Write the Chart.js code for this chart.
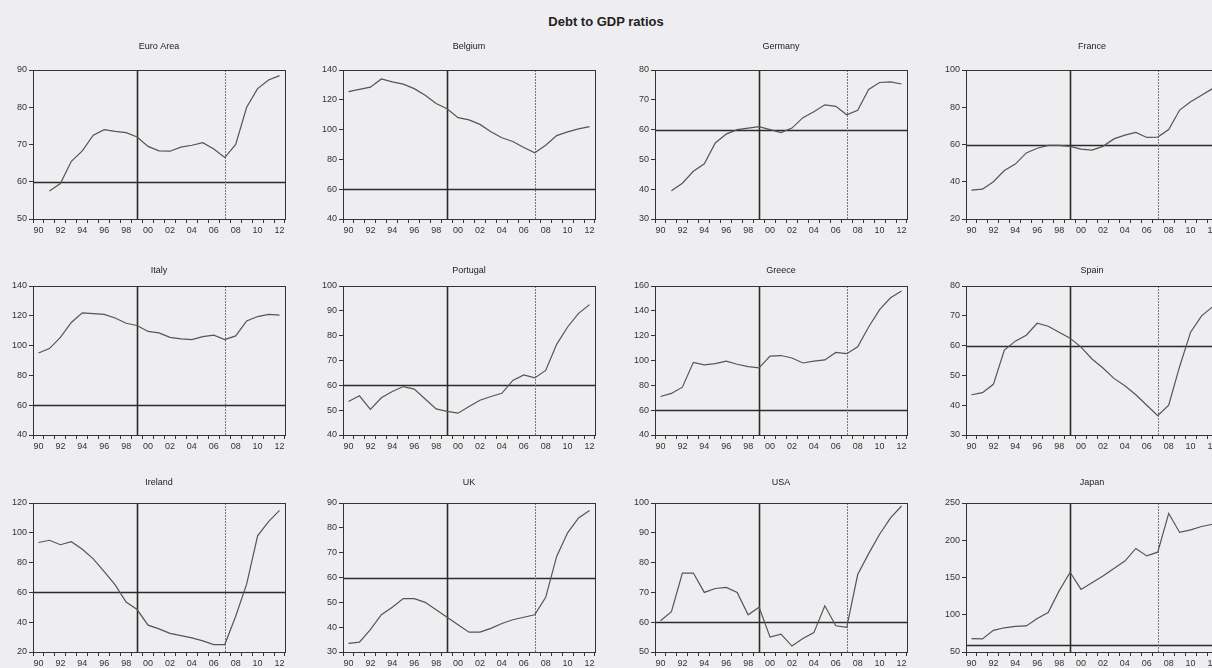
<!DOCTYPE html>
<html>
<head>
<meta charset="utf-8">
<title>Debt to GDP ratios</title>
<script src="https://cdn.jsdelivr.net/npm/chart.js@4.4.1/dist/chart.umd.min.js"></script>
<style>
  html, body { margin: 0; padding: 0; }
  body { width: 1212px; height: 668px; overflow: hidden; position: relative; background: #eeeef0; }
  #title { position: absolute; left: 0; width: 1212px; top: 14px; text-align: center;
           font: bold 13px "Liberation Sans", Arial, sans-serif; color: #222; }
  .panel { position: absolute; }
</style>
</head>
<body>
<div id="title">Debt to GDP ratios</div>
<div id="grid"></div>
<script>
// years 1990 - 2012
const years = ['90','91','92','93','94','95','96','97','98','99','00','01','02','03','04','05','06','07','08','09','10','11','12'];

const euroArea = [null, 57.5, 59.5, 65.5, 68.3, 72.5, 74, 73.5, 73.2, 72, 69.5, 68.3, 68.2, 69.3, 69.8, 70.5, 68.8, 66.5, 70, 80, 85, 87.3, 88.5];
const belgium  = [125.5, 127, 128.5, 134, 132, 130.5, 127.5, 123, 117.5, 114, 108, 106.5, 103.5, 98.5, 94.5, 92, 88, 84.5, 89.5, 96, 98.5, 100.5, 102];
const germany  = [null, 39.5, 42, 46, 48.5, 55.5, 58.5, 60, 60.5, 61, 60, 59, 60.5, 64, 66, 68.3, 67.8, 65, 66.5, 73.5, 75.8, 76, 75.3];
const france   = [35.5, 36, 40, 46, 49.5, 55.5, 58, 59.5, 59.5, 59, 57.5, 57, 59, 63, 65, 66.5, 63.8, 64, 68, 78.5, 83, 86.5, 90];
const italy    = [95, 98, 105.5, 115.5, 122, 121.5, 121, 118.5, 115, 113.5, 109.5, 108.5, 105.5, 104.5, 104, 106, 107, 104, 106.5, 116.5, 119.5, 121, 120.5];
const portugal = [53.5, 55.8, 50.3, 55, 57.5, 59.5, 58.5, 54.5, 50.5, 49.5, 48.8, 51.5, 54, 55.5, 56.8, 62, 64.2, 63, 66, 76.5, 83.5, 89, 92.5];
const greece   = [71, 73.5, 78.5, 98.5, 96.5, 97.5, 99.5, 97, 95, 94, 103.5, 104, 102, 98, 99.5, 100.5, 106.5, 105.5, 111, 127, 141, 150.5, 156];
const spain    = [43.5, 44.2, 47, 58.5, 61.5, 63.5, 67.5, 66.5, 64.5, 62.5, 59.5, 55.5, 52.5, 49, 46.5, 43.5, 40, 36.5, 40, 53, 64.5, 70, 73];
const ireland  = [93.5, 95, 92, 94, 89, 82.5, 74, 65, 53.5, 48.5, 38, 35.5, 32.5, 31, 29.5, 27.5, 25, 25, 44, 65.5, 98, 107.5, 115];
const uk       = [33.5, 34, 39, 45, 48, 51.5, 51.5, 50, 47, 44, 41, 38, 38, 39.5, 41.5, 43, 44, 45, 52, 68.5, 78, 84, 87];
const usa      = [60.5, 63.5, 76.5, 76.5, 70, 71.3, 71.7, 70, 62.5, 65, 55, 56, 52, 54.5, 56.5, 65.5, 58.8, 58.3, 76, 83, 89.5, 95, 99];
const japan    = [68, 67.5, 79, 82.5, 84.5, 85, 95, 103, 132, 157, 134, 143, 152, 162, 172, 189, 179, 184, 236, 210.5, 214, 218.5, 221.5];

const countries = ['Euro Area', 'Belgium', 'Germany', 'France', 'Italy', 'Portugal', 'Greece', 'Spain', 'Ireland', 'UK', 'USA', 'Japan'];
const series = [euroArea, belgium, germany, france, italy, portugal, greece, spain, ireland, uk, usa, japan];
const yMin  = [50, 40, 30, 20, 40, 40, 40, 30, 20, 30, 50, 50];
const yMax  = [90, 140, 80, 100, 140, 100, 160, 80, 120, 90, 100, 250];
const yStep = [10, 20, 10, 20, 20, 10, 20, 10, 20, 10, 10, 50];

const limit = 60;      // Maastricht debt limit
const euroYear = '99'; // euro launch
const crisisYear = '07';

// page layout of the 4 x 3 panels
const colLeft = [33, 343, 655, 966];
const rowTop = [70, 286, 503];
const plotW = 252, plotH = 149;
const titleGap = [23, 15, 20];
const padTop = 30, axisW = 40, axisH = 22, padRight = 8;

Chart.defaults.font.family = '"Liberation Sans", Arial, sans-serif';
Chart.defaults.font.size = 9;
Chart.defaults.color = '#333';

const frame = {
  id: 'frame',
  beforeDatasetsDraw(chart, args, opts) {
    const { ctx, chartArea: a, scales: { x, y } } = chart;
    ctx.save();
    // 60% line
    const yl = Math.round(y.getPixelForValue(limit)) + 0.5;
    ctx.strokeStyle = '#2b2b2b';
    ctx.lineWidth = 1.6;
    ctx.beginPath(); ctx.moveTo(a.left, yl); ctx.lineTo(a.right, yl); ctx.stroke();
    // 1999
    const x1 = Math.round(x.getPixelForValue(years.indexOf(euroYear))) + 0.5;
    ctx.beginPath(); ctx.moveTo(x1, a.top); ctx.lineTo(x1, a.bottom); ctx.stroke();
    // 2007
    const x2 = Math.round(x.getPixelForValue(years.indexOf(crisisYear))) + 0.5;
    ctx.strokeStyle = '#7a7a7a';
    ctx.lineWidth = 1;
    ctx.setLineDash([2, 1]);
    ctx.beginPath(); ctx.moveTo(x2, a.top); ctx.lineTo(x2, a.bottom); ctx.stroke();
    ctx.restore();
  },
  afterDraw(chart, args, opts) {
    const { ctx, chartArea: a } = chart;
    ctx.save();
    ctx.strokeStyle = '#333';
    ctx.lineWidth = 1;
    ctx.strokeRect(Math.round(a.left) + 0.5, Math.round(a.top) + 0.5, Math.round(a.right - a.left), Math.round(a.bottom - a.top));
    ctx.fillStyle = '#222';
    ctx.font = '9px "Liberation Sans", Arial, sans-serif';
    ctx.textAlign = 'center';
    ctx.textBaseline = 'middle';
    ctx.fillText(opts.text, (a.left + a.right) / 2, a.top - opts.gap);
    ctx.restore();
  }
};

const grid = document.getElementById('grid');
countries.forEach((name, i) => {
  const col = i % 4, row = Math.floor(i / 4);
  const div = document.createElement('div');
  div.className = 'panel';
  div.style.left = (colLeft[col] - axisW) + 'px';
  div.style.top = (rowTop[row] - padTop) + 'px';
  const canvas = document.createElement('canvas');
  canvas.width = plotW + axisW + padRight;
  canvas.height = plotH + padTop + axisH;
  div.appendChild(canvas);
  grid.appendChild(div);

  new Chart(canvas, {
    type: 'line',
    data: {
      labels: years,
      datasets: [{
        data: series[i],
        borderColor: '#555',
        borderWidth: 1.2,
        pointRadius: 0,
        fill: false,
        tension: 0
      }]
    },
    options: {
      responsive: false,
      animation: false,
      events: [],
      layout: { padding: { top: padTop, right: padRight, left: 0, bottom: 0 } },
      plugins: {
        legend: { display: false },
        tooltip: { enabled: false },
        frame: { text: name, gap: titleGap[row] }
      },
      scales: {
        x: {
          type: 'category',
          offset: true,
          afterFit(scale) { scale.height = axisH; },
          grid: { offset: true, drawOnChartArea: false, drawTicks: true, tickLength: 4, color: '#333' },
          border: { display: true, color: '#333' },
          ticks: {
            autoSkip: false,
            maxRotation: 0,
            padding: 2,
            color: '#333',
            callback: (v, idx) => idx % 2 === 0 ? years[idx] : ''
          }
        },
        y: {
          min: yMin[i],
          max: yMax[i],
          afterFit(scale) { scale.width = axisW; },
          grid: { drawOnChartArea: false, drawTicks: true, tickLength: 4, color: '#333' },
          border: { display: true, color: '#333' },
          ticks: { stepSize: yStep[i], padding: 2, color: '#333' }
        }
      }
    },
    plugins: [frame]
  });
});
</script>
</body>
</html>
